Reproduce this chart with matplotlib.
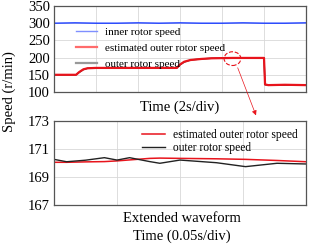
import numpy as np
import matplotlib.pyplot as plt
from matplotlib.patches import Ellipse

plt.rcParams['font.family'] = ['Liberation Serif', 'DejaVu Serif']

# Top trace (time in s)
t_top = [0, 1.05, 1.2, 1.4, 1.6, 2.0, 3.0, 5.85, 6.0, 6.2, 6.5, 7.0, 7.5, 8.5, 10.0, 10.05, 10.2, 11.0, 12.0]
est_top = [150, 150, 158, 166, 169, 170, 170, 170, 180, 188, 193, 196, 198, 199, 199, 122, 120, 121, 120]
outer_top = [150, 150, 157, 165, 169, 170, 170, 170, 179, 187, 193, 196, 198, 199, 199, 121, 120, 120, 121]
t_inner = [0, 1, 2, 3, 4, 5, 6, 7, 8, 9, 10, 11, 12]
inner_top = [300, 301, 300, 300, 301, 300, 301, 300, 300, 301, 300, 300, 301]

# Extended waveform (time in s)
t_ext = [0, 0.01, 0.025, 0.04, 0.05, 0.06, 0.076, 0.084, 0.1, 0.129, 0.152, 0.177, 0.2]
est_ext = [170.05, 170.05, 170.08, 170.1, 170.15, 170.22, 170.33, 170.35, 170.33, 170.3, 170.26, 170.18, 170.09]
outer_ext = [170.26, 170.09, 170.2, 170.38, 170.21, 170.38, 170.1, 169.98, 170.21, 170.02, 169.74, 169.98, 169.93]

fig = plt.figure(figsize=(3.09, 2.45), dpi=100)
W, H = 309, 245
ax1 = fig.add_axes([54 / W, 1 - 92 / H, 252 / W, 86 / H])
ax2 = fig.add_axes([54 / W, 1 - 205 / H, 252 / W, 84 / H])

for ax in (ax1, ax2):
    ax.grid(True, color='#d8d8d8', linewidth=0.6)
    ax.set_axisbelow(True)
    for s in ax.spines.values():
        s.set_color('#555555')
        s.set_linewidth(0.9)
    ax.tick_params(length=0, labelsize=10.5, pad=3)

ax1.plot(t_inner, inner_top, color='#1a3cff', linewidth=1.0, label='inner rotor speed')
ax1.plot(t_top, outer_top, color='#333333', linewidth=1.0, label='outer rotor speed')
ax1.plot(t_top, est_top, color='#e8141c', linewidth=1.6, label='estimated outer rotor speed')
ax1.set_xlim(0, 12)
ax1.set_ylim(100, 350)
ax1.set_xticks(np.arange(0, 12.1, 2))
ax1.set_yticks([100, 150, 200, 250, 300, 350])
ax1.set_xticklabels([])
h, l = ax1.get_legend_handles_labels()
leg1 = ax1.legend([h[0], h[2], h[1]], [l[0], l[2], l[1]], loc='upper left',
                  bbox_to_anchor=(0.055, 0.84), frameon=False, fontsize=8,
                  handlelength=1.9, handletextpad=0.7, labelspacing=0.55, borderpad=0.2)
leg1.get_lines()[0].set_color('#7f8fff')
leg1.get_lines()[1].set_color('#ff6b6b')
leg1.get_lines()[2].set_color('#999999')
leg1.get_lines()[2].set_linewidth(1.6)

ax2.plot(t_ext, est_ext, color='#e8141c', linewidth=1.1, label='estimated outer rotor speed')
ax2.plot(t_ext, outer_ext, color='#222222', linewidth=1.0, label='outer rotor speed')
ax2.set_xlim(0, 0.2)
ax2.set_ylim(167, 173)
ax2.set_xticks([0, 0.05, 0.1, 0.15, 0.2])
ax2.set_yticks([167, 169, 171, 173])
ax2.set_xticklabels([])
ax2.legend(loc='upper right', bbox_to_anchor=(1.0, 1.0), frameon=False, fontsize=8.3,
           handlelength=2.0, handletextpad=0.7, labelspacing=0.05, borderpad=0.2)

# dashed circle and arrow
ax1.add_patch(Ellipse((8.5, 197), 0.8, 40, fill=False, edgecolor='#e8141c',
                      linestyle='--', linewidth=0.8, zorder=5))
ax1.annotate('', xy=(257 / W, 1 - 118 / H), xycoords='figure fraction',
             xytext=(8.7, 178), textcoords='data',
             arrowprops=dict(arrowstyle='-|>', color='#e8141c', linewidth=0.5,
                             mutation_scale=7), annotation_clip=False)

fig.text(180 / W, 1 - 107 / H, 'Time (2s/div)', ha='center', va='center', fontsize=10.5)
fig.text(182 / W, 1 - 218 / H, 'Extended waveform', ha='center', va='center', fontsize=10.5)
fig.text(182 / W, 1 - 236 / H, 'Time (0.05s/div)', ha='center', va='center', fontsize=10.5)
fig.text(9 / W, 1 - 92 / H, 'Speed (r/min)', ha='center', va='center', rotation=90, fontsize=10.5)

fig.savefig('out.png', dpi=100)
